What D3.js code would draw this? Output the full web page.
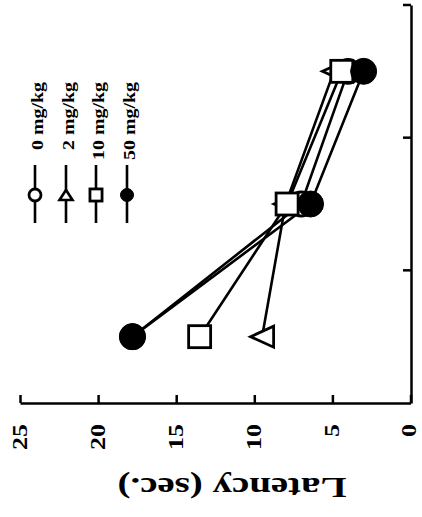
<!DOCTYPE html>
<html>
<head>
<meta charset="utf-8">
<script src="https://cdn.jsdelivr.net/npm/d3@7"></script>
<style>
  html, body { margin: 0; padding: 0; background: #fff; }
  svg { display: block; }
  text { font-family: "Liberation Serif", "Times New Roman", serif; font-weight: bold; fill: #000; }
</style>
</head>
<body>
<svg id="chart" width="422" height="517"></svg>
<script>
// ---- data ----
const trials = ["1", "2", "3"];
const doseLabels = ["0 mg/kg", "2 mg/kg", "10 mg/kg", "50 mg/kg"];
const dose0 = [17.8, 7.0, 4.0];
const dose2 = [9.5, 8.0, 4.9];
const dose10 = [13.5, 7.9, 4.4];
const dose50 = [17.8, 6.4, 3.0];
const latencyTicks = [0, 5, 10, 15, 20, 25];
const axisTitle = "Latency (sec.)";

const series = [
  { label: doseLabels[0], values: dose0, shape: "openCircle" },
  { label: doseLabels[1], values: dose2, shape: "triangle" },
  { label: doseLabels[2], values: dose10, shape: "square" },
  { label: doseLabels[3], values: dose50, shape: "filledCircle" }
];

const svg = d3.select("#chart");

// scales (figure is shown rotated: latency runs right-to-left, trials bottom-to-top)
const x = d3.scaleLinear().domain([0, 25]).range([410.5, 20]);
const y = d3.scaleBand().domain(trials).range([403, 5]).paddingInner(0).paddingOuter(0);
const yc = d => y(d) + y.bandwidth() / 2;

// bottom (latency) axis
const xAxis = d3.axisBottom(x).tickValues(latencyTicks).tickSizeInner(-8).tickSizeOuter(0);
const gx = svg.append("g").attr("transform", "translate(0,403)").call(xAxis);
gx.select(".domain").attr("stroke", "#000").attr("stroke-width", 2.5);
gx.selectAll(".tick line").attr("stroke", "#000").attr("stroke-width", 2.5);
gx.selectAll(".tick text")
  .attr("x", 0).attr("y", 0).attr("dy", "0.3em")
  .attr("transform", d => `translate(${d === 0 ? -1.5 : 0},21) rotate(-90)`)
  .attr("text-anchor", "end")
  .style("font-family", "'Liberation Serif', serif")
  .style("font-weight", "bold")
  .style("font-size", "20px")
  .attr("textLength", d => String(d).length * 13)
  .attr("lengthAdjust", "spacingAndGlyphs");

// right (trial) axis with ticks at band boundaries
const yAxis = d3.axisLeft(y).tickSizeInner(8).tickSizeOuter(0).tickFormat("");
const gy = svg.append("g").attr("transform", "translate(411,0)").call(yAxis);
gy.select(".domain").attr("stroke", "#000").attr("stroke-width", 2.5);
gy.selectAll(".tick").attr("transform", d => `translate(0,${y(d)})`);
gy.selectAll(".tick line").attr("stroke", "#000").attr("stroke-width", 2.5);

// title (upside down)
svg.append("text")
  .attr("transform", "translate(232,488) rotate(180)")
  .attr("text-anchor", "middle")
  .attr("dy", "0.35em")
  .style("font-size", "29px")
  .attr("textLength", 229)
  .attr("lengthAdjust", "spacingAndGlyphs")
  .text(axisTitle);

// lines
const line = d3.line().x(d => x(d.v)).y(d => yc(d.t));
series.forEach(s => {
  svg.append("path")
    .datum(s.values.map((v, i) => ({ v, t: trials[i] })))
    .attr("d", line)
    .attr("fill", "none")
    .attr("stroke", "#000")
    .attr("stroke-width", 2.6);
});

// markers
function drawMarker(g, shape, cx, cy, k) {
  const sw = 2.8;
  if (shape === "openCircle") {
    g.append("circle").attr("cx", cx).attr("cy", cy).attr("r", 12 * k)
      .attr("fill", "#fff").attr("stroke", "#000").attr("stroke-width", sw);
  } else if (shape === "filledCircle") {
    g.append("circle").attr("cx", cx).attr("cy", cy).attr("r", 13 * k)
      .attr("fill", "#000").attr("stroke", "#000").attr("stroke-width", 1);
  } else if (shape === "square") {
    const h = 11 * k;
    g.append("rect").attr("x", cx - h).attr("y", cy - h).attr("width", 2 * h).attr("height", 2 * h)
      .attr("fill", "#fff").attr("stroke", "#000").attr("stroke-width", sw);
  } else if (shape === "triangle") {
    const w = 11.5 * k, h = 10.5 * k;
    g.append("path")
      .attr("d", `M${cx - w},${cy} L${cx + w},${cy - h} L${cx + w},${cy + h} Z`)
      .attr("fill", "#fff").attr("stroke", "#000").attr("stroke-width", sw).attr("stroke-linejoin", "miter");
  }
}
const gm = svg.append("g");
series.forEach(s => {
  s.values.forEach((v, i) => drawMarker(gm, s.shape, x(v), yc(trials[i]), 1));
});

// legend (rotated)
const legendX = [35, 66, 96, 127];
const gl = svg.append("g");
series.forEach((s, i) => {
  const lx = legendX[i];
  gl.append("line").attr("x1", lx).attr("x2", lx).attr("y1", 165).attr("y2", 223)
    .attr("stroke", "#000").attr("stroke-width", 2.6);
  if (s.shape === "triangle") {
    gl.append("path").attr("d", `M${lx},${190} L${lx - 6.5},${200} L${lx + 6.5},${200} Z`)
      .attr("fill", "#fff").attr("stroke", "#000").attr("stroke-width", 2.6);
  } else {
    drawMarker(gl, s.shape, lx, 195, s.shape === "square" ? 0.55 : 0.5);
  }
  gl.append("text")
    .attr("transform", `translate(${lx + 2},82) rotate(-90)`)
    .attr("text-anchor", "end")
    .attr("dy", "0.35em")
    .style("font-size", "17px")
    .attr("textLength", s.label.length === 7 ? 68 : 78)
    .attr("lengthAdjust", "spacingAndGlyphs")
    .text(s.label);
});
</script>
</body>
</html>
